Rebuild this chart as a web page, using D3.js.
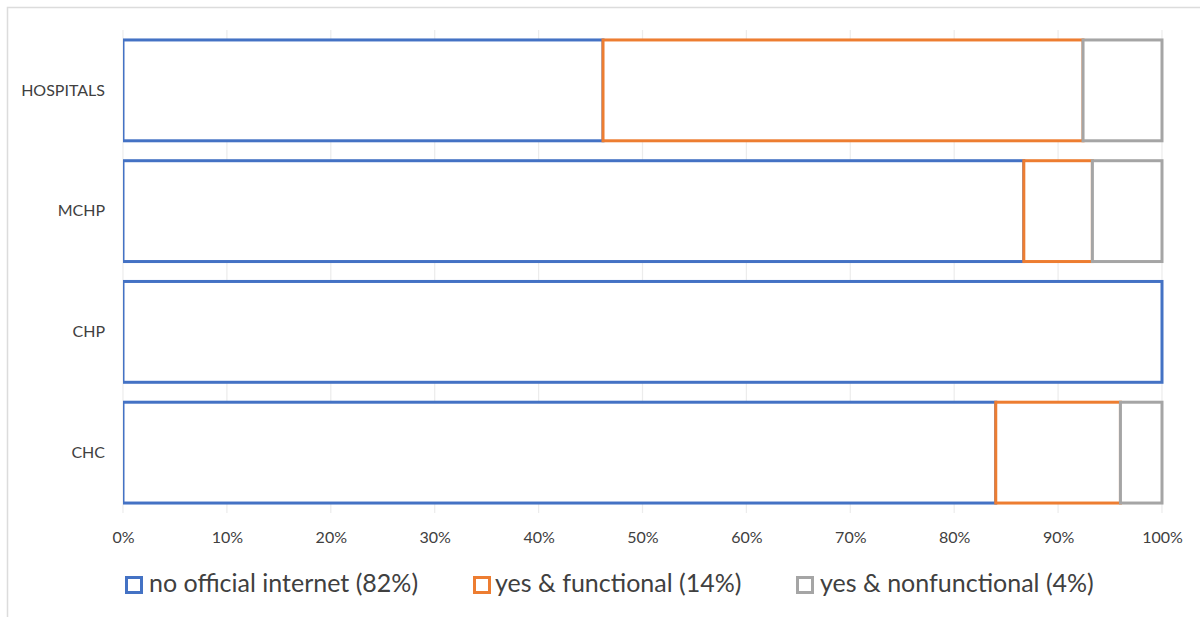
<!DOCTYPE html>
<html>
<head>
<meta charset="utf-8">
<script src="https://cdn.jsdelivr.net/npm/d3@7"></script>
<style>
  html, body { margin: 0; padding: 0; background: #fff; }
  svg { display: block; }
  text { font-family: Lato, "Open Sans", sans-serif; fill: #404040; }
</style>
</head>
<body>
<svg id="chart" width="1200" height="617"></svg>
<script>
// Facility types, top to bottom
const categories = ["HOSPITALS", "MCHP", "CHP", "CHC"];
// Share of facilities (%) in each internet status
const noInternet    = [46.2, 86.7, 100, 84];
const yesFunctional = [46.2, 6.6, 0, 12];
const yesNonfunc    = [7.6, 6.7, 0, 4];
const seriesNames = ["no official internet (82%)", "yes & functional (14%)", "yes & nonfunctional (4%)"];
const seriesColors = ["#4472C4", "#ED7D31", "#A5A5A5"];
const tickValues = [0, 10, 20, 30, 40, 50, 60, 70, 80, 90, 100];

const svg = d3.select("#chart");
const W = 1200, H = 617;
const plot = { left: 123, right: 1162, top: 30, bottom: 513 };

// outer chart frame
svg.append("rect")
  .attr("x", 7.5).attr("y", 7.5)
  .attr("width", W).attr("height", H)
  .attr("fill", "none").attr("stroke", "#dcdcdc").attr("stroke-width", 1.5);

const x = d3.scaleLinear().domain([0, 100]).range([plot.left, plot.right]);
const y = d3.scaleBand().domain(categories).range([plot.top, plot.bottom]).paddingInner(0.165).paddingOuter(0.0825);

// vertical gridlines
svg.append("g")
  .selectAll("line")
  .data(tickValues)
  .join("line")
  .attr("x1", d => x(d)).attr("x2", d => x(d))
  .attr("y1", plot.top).attr("y2", plot.bottom)
  .attr("stroke", "#ececec").attr("stroke-width", 1.2);

// stacked data
const rows = categories.map((c, i) => ({ cat: c, s0: noInternet[i], s1: yesFunctional[i], s2: yesNonfunc[i] }));
const stack = d3.stack().keys(["s0", "s1", "s2"])(rows);

svg.append("defs").append("clipPath").attr("id", "plotclip")
  .append("rect").attr("x", plot.left).attr("y", 0).attr("width", 1100).attr("height", H);

const gBars = svg.append("g").attr("clip-path", "url(#plotclip)");
stack.forEach((layer, k) => {
  gBars.append("g")
    .selectAll("rect")
    .data(layer.filter(d => d[1] - d[0] > 0))
    .join("rect")
    .attr("x", d => x(d[0]))
    .attr("width", d => x(d[1]) - x(d[0]))
    .attr("y", d => y(d.data.cat))
    .attr("height", y.bandwidth())
    .attr("fill", "#fff")
    .attr("stroke", seriesColors[k])
    .attr("stroke-width", 3);
});

// x axis labels
const xAxis = d3.axisBottom(x).tickValues(tickValues).tickFormat(d => d + "%").tickSize(0).tickPadding(0);
const gx = svg.append("g").attr("transform", `translate(0, 537)`).call(xAxis);
gx.select(".domain").remove();
gx.selectAll("text").attr("font-size", 16).attr("y", 0).attr("dy", "0.35em")
  .style("font-family", "Lato, sans-serif").attr("fill", "#404040");

// y axis labels
const yAxis = d3.axisLeft(y).tickSize(0).tickPadding(0);
const gy = svg.append("g").attr("transform", `translate(105, 0)`).call(yAxis);
gy.select(".domain").remove();
gy.selectAll("text").attr("font-size", 16).style("font-family", "Lato, sans-serif").attr("fill", "#404040");

// legend
const legendX = [125, 473, 796];
const legendTextX = [149, 495, 820];
const legend = svg.append("g");
seriesNames.forEach((name, k) => {
  legend.append("rect")
    .attr("x", legendX[k] + 1.5).attr("y", 577.5).attr("width", 15).attr("height", 15)
    .attr("fill", "#fff").attr("stroke", seriesColors[k]).attr("stroke-width", 3);
  legend.append("text").attr("x", legendTextX[k]).attr("y", 592)
    .attr("font-size", 25).text(name);
});
</script>
</body>
</html>
